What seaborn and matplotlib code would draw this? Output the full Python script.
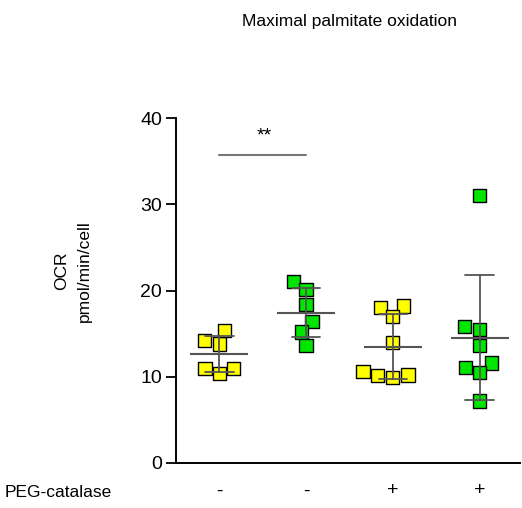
import pandas as pd
import numpy as np
import matplotlib
matplotlib.use("Agg")
import matplotlib.pyplot as plt
import seaborn as sns

# valeurs (OCR, pmol/min/cell)
groups = ["ctrl", "pa", "cat", "pa_cat"]
group_labels = ["-", "-", "+", "+"]
ctrl = [14.2, 13.8, 15.4, 11.0, 10.4, 11.0]
pa = [21.0, 20.1, 18.4, 16.4, 15.2, 13.6]
cat = [18.2, 18.0, 17.0, 14.0, 10.2, 9.9, 10.1, 10.6]
pa_cat = [31.0, 15.8, 15.5, 13.6, 11.1, 11.6, 10.5, 7.2]
colors = ["#FFFF00", "#00E600", "#FFFF00", "#00E600"]
sig_pair = (0, 1)
sig_y = 35.7
sig_text = "**"

df = pd.DataFrame({
    "Group": sum([[g] * len(v) for g, v in zip(groups, [ctrl, pa, cat, pa_cat])], []),
    "OCR": ctrl + pa + cat + pa_cat,
})

sns.set_style("ticks", {"axes.edgecolor": "black", "text.color": "black",
                        "xtick.color": "black", "ytick.color": "black"})
plt.rcParams["font.family"] = ["Liberation Sans", "DejaVu Sans"]

fig = plt.figure(figsize=(5.22, 5.08), dpi=100)
ax = fig.add_axes([0.337, 0.0886, 0.66, 0.679])

# points
sns.swarmplot(data=df, x="Group", y="OCR", hue="Group", order=groups,
              palette=dict(zip(groups, colors)), marker="s", size=9.5,
              edgecolor="black", linewidth=1, legend=False, ax=ax, zorder=3)

# moyenne +/- SD
sns.pointplot(data=df, x="Group", y="OCR", order=groups, errorbar="sd",
              capsize=0.33, color="#555555", marker="_", markersize=42,
              markeredgewidth=1.5, linestyle="none", err_kws={"linewidth": 1.3},
              ax=ax, zorder=4)

# barre de significativité
ax.plot(list(sig_pair), [sig_y, sig_y], color="#777777", lw=1.5, clip_on=False)
ax.text(np.mean(sig_pair) + 0.02, sig_y + 1.2, sig_text, ha="center", va="bottom",
        fontsize=14)

ax.set_ylim(0, 40)
ax.set_xlim(-0.5, 3.47)
ax.set_yticks([0, 10, 20, 30, 40])
ax.set_xticks(range(len(groups)))
ax.set_xticklabels(group_labels, fontsize=14)
ax.tick_params(axis="x", length=0, pad=14)
ax.tick_params(axis="y", length=7, width=1.3, labelsize=14, pad=3)
ax.set_xlabel("")
ax.set_ylabel("")
for s in ["left", "bottom"]:
    ax.spines[s].set_linewidth(1.4)
sns.despine(ax=ax)

fig.text(0.14, 0.467, "OCR\npmol/min/cell", rotation=90, ha="center",
         va="center", fontsize=12.5, linespacing=1.6, multialignment="center")
fig.text(0.67, 0.957, "Maximal palmitate oxidation", ha="center", va="center",
         fontsize=12.5)
fig.text(0.008, 0.03, "PEG-catalase", ha="left", va="center", fontsize=12.5)

fig.savefig("out.png", dpi=100)
